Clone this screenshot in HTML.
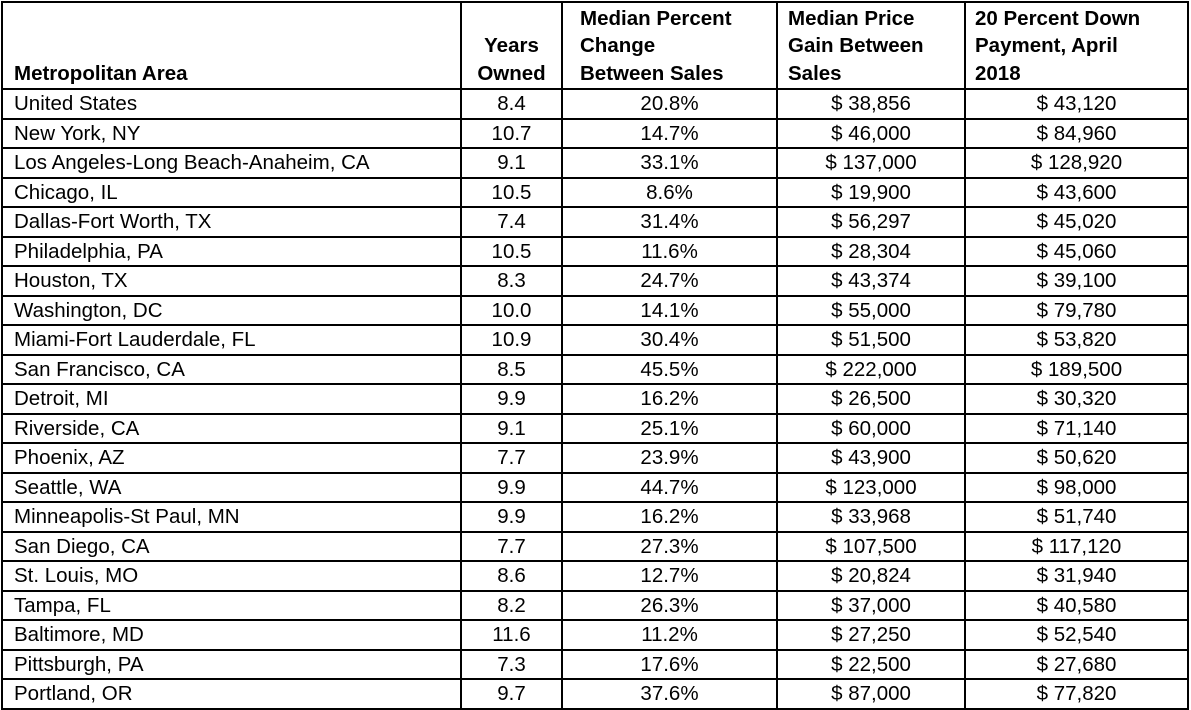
<!DOCTYPE html>
<html><head><meta charset="utf-8"><style>
html,body{margin:0;padding:0;background:#fff;width:1191px;height:708px;overflow:hidden}
table{position:absolute;left:1px;top:1px;border-collapse:collapse;table-layout:fixed;font-family:"Liberation Sans",Arial,sans-serif;font-size:20.5px;color:#000}
td{border:2px solid #000;padding:0 8px 0 11px;height:27.5px;line-height:27px;white-space:nowrap;overflow:hidden}
td.c{text-align:center;padding:0 4px}
tr.h td{height:84px;font-weight:bold;vertical-align:bottom;line-height:27.5px;padding-bottom:1px}
</style></head><body>
<table>
<colgroup><col style="width:459px"><col style="width:101px"><col style="width:215px"><col style="width:188px"><col style="width:223px"></colgroup>
<tr class="h"><td>Metropolitan Area</td><td class="c">Years<br>Owned</td><td style="padding-left:17px">Median Percent<br>Change<br>Between Sales</td><td style="padding-left:10px">Median Price<br>Gain Between<br>Sales</td><td style="padding-left:9px">20 Percent Down<br>Payment, April<br>2018</td></tr>
<tr><td>United States</td><td class="c">8.4</td><td class="c">20.8%</td><td class="c">$ 38,856</td><td class="c">$ 43,120</td></tr>
<tr><td>New York, NY</td><td class="c">10.7</td><td class="c">14.7%</td><td class="c">$ 46,000</td><td class="c">$ 84,960</td></tr>
<tr><td>Los Angeles-Long Beach-Anaheim, CA</td><td class="c">9.1</td><td class="c">33.1%</td><td class="c">$ 137,000</td><td class="c">$ 128,920</td></tr>
<tr><td>Chicago, IL</td><td class="c">10.5</td><td class="c">8.6%</td><td class="c">$ 19,900</td><td class="c">$ 43,600</td></tr>
<tr><td>Dallas-Fort Worth, TX</td><td class="c">7.4</td><td class="c">31.4%</td><td class="c">$ 56,297</td><td class="c">$ 45,020</td></tr>
<tr><td>Philadelphia, PA</td><td class="c">10.5</td><td class="c">11.6%</td><td class="c">$ 28,304</td><td class="c">$ 45,060</td></tr>
<tr><td>Houston, TX</td><td class="c">8.3</td><td class="c">24.7%</td><td class="c">$ 43,374</td><td class="c">$ 39,100</td></tr>
<tr><td>Washington, DC</td><td class="c">10.0</td><td class="c">14.1%</td><td class="c">$ 55,000</td><td class="c">$ 79,780</td></tr>
<tr><td>Miami-Fort Lauderdale, FL</td><td class="c">10.9</td><td class="c">30.4%</td><td class="c">$ 51,500</td><td class="c">$ 53,820</td></tr>
<tr><td>San Francisco, CA</td><td class="c">8.5</td><td class="c">45.5%</td><td class="c">$ 222,000</td><td class="c">$ 189,500</td></tr>
<tr><td>Detroit, MI</td><td class="c">9.9</td><td class="c">16.2%</td><td class="c">$ 26,500</td><td class="c">$ 30,320</td></tr>
<tr><td>Riverside, CA</td><td class="c">9.1</td><td class="c">25.1%</td><td class="c">$ 60,000</td><td class="c">$ 71,140</td></tr>
<tr><td>Phoenix, AZ</td><td class="c">7.7</td><td class="c">23.9%</td><td class="c">$ 43,900</td><td class="c">$ 50,620</td></tr>
<tr><td>Seattle, WA</td><td class="c">9.9</td><td class="c">44.7%</td><td class="c">$ 123,000</td><td class="c">$ 98,000</td></tr>
<tr><td>Minneapolis-St Paul, MN</td><td class="c">9.9</td><td class="c">16.2%</td><td class="c">$ 33,968</td><td class="c">$ 51,740</td></tr>
<tr><td>San Diego, CA</td><td class="c">7.7</td><td class="c">27.3%</td><td class="c">$ 107,500</td><td class="c">$ 117,120</td></tr>
<tr><td>St. Louis, MO</td><td class="c">8.6</td><td class="c">12.7%</td><td class="c">$ 20,824</td><td class="c">$ 31,940</td></tr>
<tr><td>Tampa, FL</td><td class="c">8.2</td><td class="c">26.3%</td><td class="c">$ 37,000</td><td class="c">$ 40,580</td></tr>
<tr><td>Baltimore, MD</td><td class="c">11.6</td><td class="c">11.2%</td><td class="c">$ 27,250</td><td class="c">$ 52,540</td></tr>
<tr><td>Pittsburgh, PA</td><td class="c">7.3</td><td class="c">17.6%</td><td class="c">$ 22,500</td><td class="c">$ 27,680</td></tr>
<tr><td>Portland, OR</td><td class="c">9.7</td><td class="c">37.6%</td><td class="c">$ 87,000</td><td class="c">$ 77,820</td></tr>
</table>
</body></html>
